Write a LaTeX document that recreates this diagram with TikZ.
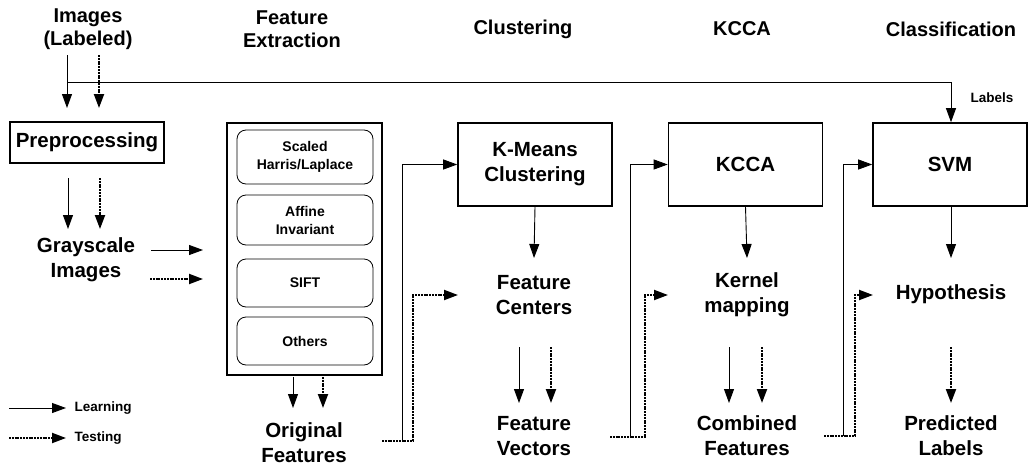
\documentclass[tikz,border=0pt]{standalone}
\usepackage{fontspec}
\setmainfont{Liberation Sans}
\usetikzlibrary{arrows.meta}

\begin{document}
\begin{tikzpicture}[x=1pt,y=-1pt,
  >={Triangle[length=14pt,width=10pt]},
  head node/.style={align=center,font=\bfseries\fontsize{20}{23}\selectfont},
  text node/.style={align=center,font=\bfseries\fontsize{20.5}{25}\selectfont},
  main node/.style={draw,line width=1.6pt,minimum width=154pt,minimum height=83pt,align=center,font=\bfseries\fontsize{20.5}{25}\selectfont},
  method node/.style={draw,rounded corners=9pt,line width=0.8pt,minimum width=136pt,align=center,font=\bfseries\fontsize{14}{18}\selectfont},
  small node/.style={font=\bfseries\fontsize{13.5}{16}\selectfont},
  learn line/.style={->,line width=0.9pt},
  test line/.style={->,line width=2pt,dash pattern=on 2pt off 0.8pt}]

\useasboundingbox (0,0) rectangle (1028,466);

% column headings
\node[head node] (hImg) at (88,29) {Images\\(Labeled)};
\node[head node] (hFeat) at (292,29) {Feature\\Extraction};
\node[head node] (hClus) at (523,29) {Clustering};
\node[head node] (hKcca) at (742,29) {KCCA};
\node[head node] (hClass) at (951,29) {Classification};

% boxes
\node[main node,minimum height=41pt] (pre) at (87,142.5) {Preprocessing};
\node[draw,line width=1.6pt,minimum width=155pt,minimum height=252pt] (fe) at (304.5,249) {};
\node[method node,minimum height=54pt] (m1) at (305,157) {Scaled\\Harris/Laplace};
\node[method node,minimum height=50pt] (m2) at (305,220) {Affine\\Invariant};
\node[method node,minimum height=48pt] (m3) at (305,283) {SIFT};
\node[method node,minimum height=48pt] (m4) at (305,341) {Others};
\node[main node] (km) at (535,164.5) {K-Means\\Clustering};
\node[main node] (kc) at (745.5,164.5) {KCCA};
\node[main node] (svm) at (950,164.5) {SVM};

% data
\node[text node] (gray) at (86,260) {Grayscale\\Images};
\node[text node] (orig) at (304,443) {Original\\Features};
\node[text node] (cent) at (534,295) {Feature\\Centers};
\node[text node] (vec) at (534,436) {Feature\\Vectors};
\node[text node] (kern) at (747,295) {Kernel\\mapping};
\node[text node] (comb) at (747,436) {Combined\\Features};
\node[text node] (hyp) at (951,294) {Hypothesis};
\node[text node] (pred) at (951,436) {Predicted\\Labels};
\node[small node] (lab) at (992,98) {Labels};
\node[small node,anchor=west] (learn) at (71,408) {Learning};
\node[small node,anchor=west] (test) at (71,438) {Testing};

% free ends
\coordinate (a1) at (67,55);   \coordinate (a2) at (67,108);
\coordinate (b1) at (99,55);   \coordinate (b2) at (99,108);
\coordinate (lab0) at (67,82);
\coordinate (c1) at (68,178);  \coordinate (c2) at (68,229);
\coordinate (d1) at (100,178); \coordinate (d2) at (100,229);
\coordinate (e1) at (151,250); \coordinate (e2) at (203,250);
\coordinate (f1) at (150,279); \coordinate (f2) at (203,279);
\coordinate (g1) at (293,377); \coordinate (g2) at (293,408);
\coordinate (k1) at (323,377); \coordinate (k2) at (323,408);
\coordinate (o1) at (402,441); \coordinate (o2) at (382,441);
\coordinate (o3) at (413,295); \coordinate (o4) at (458,295);
\coordinate (p1) at (534,258);
\coordinate (q1) at (519,347); \coordinate (q2) at (519,403);
\coordinate (r1) at (551,347); \coordinate (r2) at (551,403);
\coordinate (v1) at (630,437); \coordinate (v2) at (610,437);
\coordinate (v3) at (645,295); \coordinate (v4) at (668,295);
\coordinate (p2) at (747,258);
\coordinate (s1) at (729,347); \coordinate (s2) at (729,403);
\coordinate (t1) at (762,347); \coordinate (t2) at (762,403);
\coordinate (w1) at (843,436); \coordinate (w2) at (824,436);
\coordinate (w3) at (855,295); \coordinate (w4) at (873,295);
\coordinate (p3) at (951,258);
\coordinate (u1) at (951,347); \coordinate (u2) at (951,403);
\coordinate (l1) at (9,408);   \coordinate (l2) at (9,438);

% learning
\draw[learn line] (a1) -- (a2);
\draw[learn line] (lab0) -| ([xshift=1pt]svm.north);
\draw[learn line] (c1) -- (c2);
\draw[learn line] (e1) -- (e2);
\draw[learn line] (g1) -- (g2);
\draw[learn line] (o1) |- (km.west);
\draw[learn line] (km.south) -- (p1);
\draw[learn line] (q1) -- (q2);
\draw[learn line] (v1) |- (kc.west);
\draw[learn line] (kc.south) -- (p2);
\draw[learn line] (s1) -- (s2);
\draw[learn line] (w1) |- (svm.west);
\draw[learn line] ([xshift=1pt]svm.south) -- (p3);
\draw[learn line] (l1) -- ([xshift=-5pt]learn.west);

% testing
\draw[test line] (b1) -- (b2);
\draw[test line] (d1) -- (d2);
\draw[test line] (f1) -- (f2);
\draw[test line] (k1) -- (k2);
\draw[test line] (o2) -| (o3) -- (o4);
\draw[test line] (r1) -- (r2);
\draw[test line] (v2) -| (v3) -- (v4);
\draw[test line] (t1) -- (t2);
\draw[test line] (w2) -| (w3) -- (w4);
\draw[test line] (u1) -- (u2);
\draw[test line] (l2) -- ([xshift=-5pt]test.west);

\end{tikzpicture}
\end{document}
